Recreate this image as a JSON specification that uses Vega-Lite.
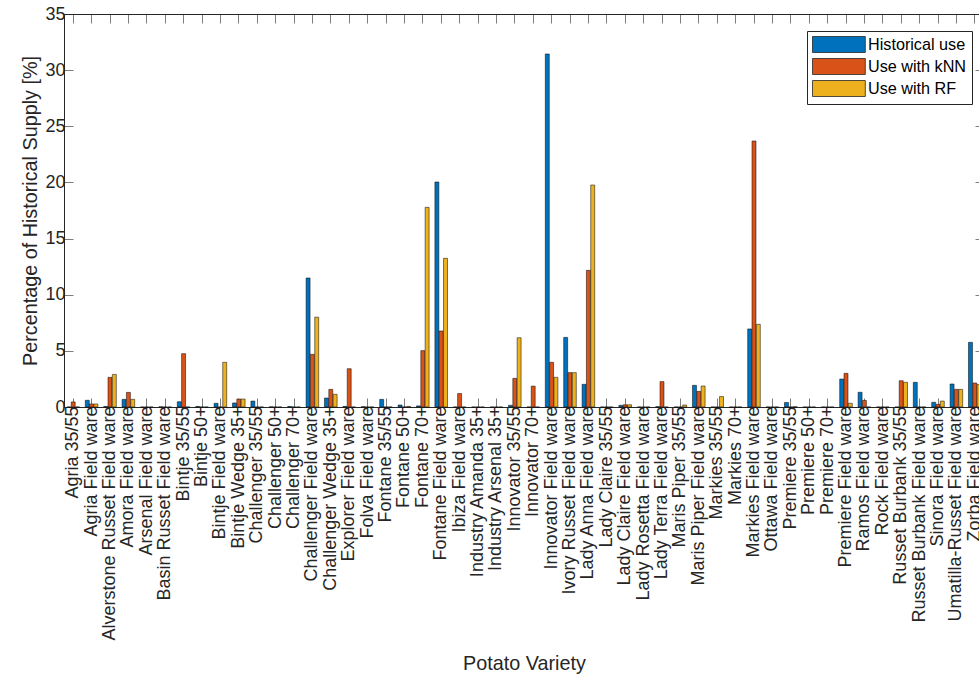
{
  "$schema": "https://vega.github.io/schema/vega-lite/v6.json",
  "width": 920,
  "height": 393,
  "autosize": {"type": "none"},
  "padding": {"left": 64, "top": 14, "right": 0, "bottom": 268},
  "background": "white",
  "config": {
    "font": "Liberation Sans",
    "view": {"stroke": "#262626", "strokeWidth": 1},
    "axis": {
      "domain": false, "grid": false,
      "tickColor": "#262626", "tickWidth": 0.6, "tickSize": -9,
      "labelFont": "Liberation Sans", "labelFontSize": 18, "labelColor": "#262626",
      "titleFont": "Liberation Sans", "titleFontSize": 19.8, "titleFontWeight": "normal", "titleColor": "#262626"
    }
  },
  "data": {"values": [
    {"variety": "Agria 35/55", "Historical use": 0, "Use with kNN": 0.45, "Use with RF": 0},
    {"variety": "Agria Field ware", "Historical use": 0.6, "Use with kNN": 0.27, "Use with RF": 0.27},
    {"variety": "Alverstone Russet Field ware", "Historical use": 0.05, "Use with kNN": 2.64, "Use with RF": 2.9},
    {"variety": "Amora Field ware", "Historical use": 0.68, "Use with kNN": 1.3, "Use with RF": 0.68},
    {"variety": "Arsenal Field ware", "Historical use": 0, "Use with kNN": 0, "Use with RF": 0},
    {"variety": "Basin Russet Field ware", "Historical use": 0.02, "Use with kNN": 0, "Use with RF": 0},
    {"variety": "Bintje 35/55", "Historical use": 0.47, "Use with kNN": 4.75, "Use with RF": 0},
    {"variety": "Bintje 50+", "Historical use": 0.05, "Use with kNN": 0, "Use with RF": 0},
    {"variety": "Bintje Field ware", "Historical use": 0.33, "Use with kNN": 0, "Use with RF": 3.98},
    {"variety": "Bintje Wedge 35+", "Historical use": 0.36, "Use with kNN": 0.71, "Use with RF": 0.71},
    {"variety": "Challenger 35/55", "Historical use": 0.53, "Use with kNN": 0, "Use with RF": 0},
    {"variety": "Challenger 50+", "Historical use": 0.02, "Use with kNN": 0, "Use with RF": 0},
    {"variety": "Challenger 70+", "Historical use": 0.05, "Use with kNN": 0, "Use with RF": 0},
    {"variety": "Challenger Field ware", "Historical use": 11.49, "Use with kNN": 4.69, "Use with RF": 8.0},
    {"variety": "Challenger Wedge 35+", "Historical use": 0.8, "Use with kNN": 1.57, "Use with RF": 1.13},
    {"variety": "Explorer Field ware", "Historical use": 0.05, "Use with kNN": 3.41, "Use with RF": 0},
    {"variety": "Folva Field ware", "Historical use": 0.03, "Use with kNN": 0, "Use with RF": 0},
    {"variety": "Fontane 35/55", "Historical use": 0.68, "Use with kNN": 0, "Use with RF": 0},
    {"variety": "Fontane 50+", "Historical use": 0.18, "Use with kNN": 0, "Use with RF": 0.05},
    {"variety": "Fontane 70+", "Historical use": 0.1, "Use with kNN": 5.02, "Use with RF": 17.78},
    {"variety": "Fontane Field ware", "Historical use": 20.04, "Use with kNN": 6.77, "Use with RF": 13.24},
    {"variety": "Ibiza Field ware", "Historical use": 0, "Use with kNN": 1.2, "Use with RF": 0},
    {"variety": "Industry Amanda 35+", "Historical use": 0, "Use with kNN": 0, "Use with RF": 0},
    {"variety": "Industry Arsenal 35+", "Historical use": 0, "Use with kNN": 0, "Use with RF": 0},
    {"variety": "Innovator 35/55", "Historical use": 0.15, "Use with kNN": 2.55, "Use with RF": 6.17},
    {"variety": "Innovator 70+", "Historical use": 0, "Use with kNN": 1.86, "Use with RF": 0},
    {"variety": "Innovator Field ware", "Historical use": 31.44, "Use with kNN": 3.98, "Use with RF": 2.64},
    {"variety": "Ivory Russet Field ware", "Historical use": 6.2, "Use with kNN": 3.06, "Use with RF": 3.06},
    {"variety": "Lady Anna Field ware", "Historical use": 2.02, "Use with kNN": 12.17, "Use with RF": 19.77},
    {"variety": "Lady Claire 35/55", "Historical use": 0, "Use with kNN": 0, "Use with RF": 0},
    {"variety": "Lady Claire Field ware", "Historical use": 0.15, "Use with kNN": 0.2, "Use with RF": 0.2},
    {"variety": "Lady Rosetta Field ware", "Historical use": 0, "Use with kNN": 0, "Use with RF": 0},
    {"variety": "Lady Terra Field ware", "Historical use": 0.03, "Use with kNN": 2.26, "Use with RF": 0},
    {"variety": "Maris Piper 35/55", "Historical use": 0, "Use with kNN": 0, "Use with RF": 0.18},
    {"variety": "Maris Piper Field ware", "Historical use": 1.93, "Use with kNN": 1.39, "Use with RF": 1.87},
    {"variety": "Markies 35/55", "Historical use": 0, "Use with kNN": 0, "Use with RF": 0.93},
    {"variety": "Markies 70+", "Historical use": 0, "Use with kNN": 0, "Use with RF": 0},
    {"variety": "Markies Field ware", "Historical use": 6.95, "Use with kNN": 23.69, "Use with RF": 7.36},
    {"variety": "Ottawa Field ware", "Historical use": 0, "Use with kNN": 0, "Use with RF": 0},
    {"variety": "Premiere 35/55", "Historical use": 0.4, "Use with kNN": 0, "Use with RF": 0.03},
    {"variety": "Premiere 50+", "Historical use": 0, "Use with kNN": 0, "Use with RF": 0},
    {"variety": "Premiere 70+", "Historical use": 0, "Use with kNN": 0, "Use with RF": 0},
    {"variety": "Premiere Field ware", "Historical use": 2.49, "Use with kNN": 3.0, "Use with RF": 0.33},
    {"variety": "Ramos Field ware", "Historical use": 1.31, "Use with kNN": 0.59, "Use with RF": 0},
    {"variety": "Rock Field ware", "Historical use": 0, "Use with kNN": 0, "Use with RF": 0},
    {"variety": "Russet Burbank 35/55", "Historical use": 0, "Use with kNN": 2.34, "Use with RF": 2.2},
    {"variety": "Russet Burbank Field ware", "Historical use": 2.2, "Use with kNN": 0, "Use with RF": 0},
    {"variety": "Sinora Field ware", "Historical use": 0.42, "Use with kNN": 0.24, "Use with RF": 0.53},
    {"variety": "Umatilla-Russet Field ware", "Historical use": 2.05, "Use with kNN": 1.57, "Use with RF": 1.57},
    {"variety": "Zorba Field ware", "Historical use": 5.76, "Use with kNN": 2.14, "Use with RF": 2.0}
  ]},
  "transform": [{"fold": ["Historical use", "Use with kNN", "Use with RF"], "as": ["series", "value"]}],
  "layer": [
    {
      "mark": {"type": "bar", "stroke": "#000000", "strokeWidth": 0.5},
      "encoding": {
        "x": {
          "field": "variety", "type": "nominal", "sort": null,
          "scale": {"paddingInner": 0.315, "paddingOuter": 0.1575},
          "axis": {
            "orient": "bottom", "title": "Potato Variety",
            "labelAngle": 270, "labelAlign": "right", "labelBaseline": "middle",
            "labelPadding": 8, "labelOverlap": false, "labelLimit": 400,
            "titleY": 262, "titleBaseline": "alphabetic"
          }
        },
        "xOffset": {
          "field": "series", "type": "nominal",
          "sort": ["Historical use", "Use with kNN", "Use with RF"],
          "scale": {"domain": ["Historical use", "Use with kNN", "Use with RF"], "paddingInner": 0.08}
        },
        "y": {
          "field": "value", "type": "quantitative",
          "scale": {"domain": [0, 35], "nice": false},
          "axis": {
            "title": "Percentage of Historical Supply [%]",
            "values": [0, 5, 10, 15, 20, 25, 30, 35],
            "labelPadding": 8,
            "titleX": -28, "titleY": 196.5, "titleAngle": 270,
            "titleBaseline": "alphabetic", "titleAlign": "center"
          }
        },
        "color": {
          "field": "series", "type": "nominal",
          "scale": {"domain": ["Historical use", "Use with kNN", "Use with RF"], "range": ["#0072BD", "#D95319", "#EDB120"]},
          "legend": {
            "orient": "none", "legendX": 743, "legendY": 17, "title": null,
            "strokeColor": "#262626", "fillColor": "white", "padding": 5,
            "symbolType": "M-3.3,-1H3.3V1H-3.3Z", "symbolSize": 256,
            "symbolStrokeColor": "#262626", "symbolStrokeWidth": 0.8,
            "symbolOffset": 18.4, "labelOffset": 20.6,
            "labelFont": "Liberation Sans", "labelFontSize": 16.2, "labelColor": "#000000",
            "rowPadding": 1
          }
        }
      }
    },
    {
      "mark": {"type": "point", "opacity": 0},
      "encoding": {
        "x": {"field": "variety", "type": "nominal", "sort": null, "axis": {"orient": "top", "labels": false, "title": null}},
        "y": {"field": "value", "type": "quantitative", "axis": {"orient": "right", "labels": false, "title": null, "values": [0, 5, 10, 15, 20, 25, 30, 35]}}
      }
    }
  ],
  "resolve": {"axis": {"x": "independent", "y": "independent"}}
}
